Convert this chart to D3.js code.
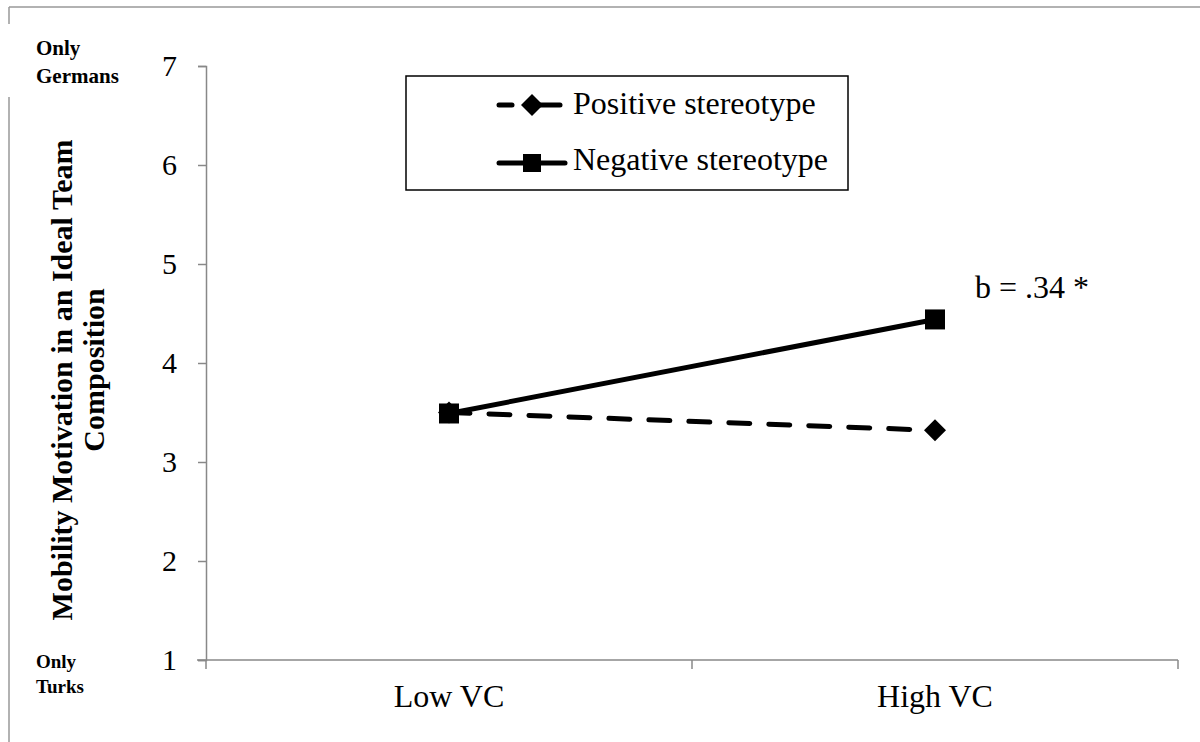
<!DOCTYPE html>
<html>
<head>
<meta charset="utf-8">
<script src="https://cdn.jsdelivr.net/npm/d3@7"></script>
<style>
  body { margin: 0; background: #fff; }
  svg { display: block; font-family: "Liberation Serif", "Times New Roman", serif; }
</style>
</head>
<body>
<svg id="chart" width="1200" height="742"></svg>
<script>
const categories = ["Low VC", "High VC"];
const positiveValues = [3.50, 3.32];
const negativeValues = [3.49, 4.44];
const yTicks = [1, 2, 3, 4, 5, 6, 7];

const svg = d3.select("#chart");

// outer frame (top and left edges only, like the cropped figure)
svg.append("line").attr("x1", 9).attr("x2", 1200).attr("y1", 7).attr("y2", 7)
  .attr("stroke", "#999").attr("stroke-width", 1.5);
svg.append("line").attr("x1", 9).attr("x2", 9).attr("y1", 7).attr("y2", 24)
  .attr("stroke", "#999").attr("stroke-width", 1.5);
svg.append("line").attr("x1", 9).attr("x2", 9).attr("y1", 97).attr("y2", 742)
  .attr("stroke", "#999").attr("stroke-width", 1.5);

const x = d3.scaleBand().domain(categories).range([206, 1178]);
const y = d3.scaleLinear().domain([1, 7]).range([660, 66]);

// y axis
const yAxis = svg.append("g")
  .attr("transform", "translate(206,0)")
  .call(d3.axisLeft(y).tickValues(yTicks).tickSize(8).tickPadding(21).tickFormat(d3.format("d")));
yAxis.selectAll("path, line").attr("stroke", "#888").attr("stroke-width", 1.5);
yAxis.selectAll("text").attr("font-size", 30).attr("font-family", "Liberation Serif").attr("fill", "#000");

// x axis with ticks at band edges
const xAxisG = svg.append("g").attr("transform", "translate(0,660)");
xAxisG.append("line").attr("x1", 197).attr("x2", 1178).attr("stroke", "#888").attr("stroke-width", 1.5);
const edges = [x.range()[0], ...categories.map(c => x(c) + x.bandwidth())];
xAxisG.selectAll(".edge").data(edges).join("line")
  .attr("x1", d => d).attr("x2", d => d).attr("y1", 0).attr("y2", 9)
  .attr("stroke", "#888").attr("stroke-width", 1.5);
xAxisG.selectAll(".cat").data(categories).join("text")
  .attr("x", d => x(d) + x.bandwidth() / 2).attr("y", 47)
  .attr("text-anchor", "middle").attr("font-size", 32).text(d => d);

const cx = d => x(d) + x.bandwidth() / 2;
const line = d3.line().x(d => cx(d[0])).y(d => y(d[1]));

// positive stereotype (dashed, diamonds)
const posData = categories.map((c, i) => [c, positiveValues[i]]);
svg.append("path").datum(posData).attr("d", line)
  .attr("fill", "none").attr("stroke", "#000").attr("stroke-width", 5)
  .attr("stroke-dasharray", "21,19").attr("stroke-linecap", "round");
svg.selectAll(".diamond").data(posData).join("path")
  .attr("transform", d => `translate(${cx(d[0])},${y(d[1])}) rotate(45)`)
  .attr("d", d3.symbol(d3.symbolSquare, 242)());

// negative stereotype (solid, squares)
const negData = categories.map((c, i) => [c, negativeValues[i]]);
svg.append("path").datum(negData).attr("d", line)
  .attr("fill", "none").attr("stroke", "#000").attr("stroke-width", 5);
svg.selectAll(".sq").data(negData).join("rect")
  .attr("x", d => cx(d[0]) - 10).attr("y", d => y(d[1]) - 10)
  .attr("width", 20).attr("height", 20).attr("fill", "#000");

// annotation
svg.append("text").attr("x", 975).attr("y", 298).attr("font-size", 32).text("b = .34 *");

// legend
svg.append("rect").attr("x", 406).attr("y", 76).attr("width", 442).attr("height", 114)
  .attr("fill", "#fff").attr("stroke", "#000").attr("stroke-width", 1.5);
const legend = [
  { label: "Positive stereotype", dash: true, y: 105, ty: 114 },
  { label: "Negative stereotype", dash: false, y: 163, ty: 170 }
];
legend.forEach(l => {
  const g = svg.append("g");
  if (l.dash) {
    g.append("line").attr("x1", 499).attr("x2", 512).attr("y1", l.y).attr("y2", l.y)
      .attr("stroke", "#000").attr("stroke-width", 5).attr("stroke-linecap", "round");
    g.append("line").attr("x1", 540).attr("x2", 560).attr("y1", l.y).attr("y2", l.y)
      .attr("stroke", "#000").attr("stroke-width", 5).attr("stroke-linecap", "round");
    g.append("path").attr("transform", `translate(532,${l.y}) rotate(45)`)
      .attr("d", d3.symbol(d3.symbolSquare, 242)());
  } else {
    g.append("line").attr("x1", 499).attr("x2", 565).attr("y1", l.y).attr("y2", l.y)
      .attr("stroke", "#000").attr("stroke-width", 5).attr("stroke-linecap", "round");
    g.append("rect").attr("x", 523).attr("y", l.y - 9).attr("width", 18).attr("height", 18);
  }
  g.append("text").attr("x", 573).attr("y", l.ty).attr("font-size", 32).text(l.label);
});

// y axis title
const title = svg.append("text").attr("font-size", 30).attr("font-weight", "bold")
  .attr("text-anchor", "middle").attr("transform", "translate(72,380) rotate(-90)");
title.append("tspan").attr("x", 0).attr("y", 0).text("Mobility Motivation in an Ideal Team");
title.append("tspan").attr("x", 10).attr("y", 32).text("Composition");

// end labels
const ends = [
  { lines: ["Only", "Germans"], x: 36, y: 55, gap: 28, size: 21 },
  { lines: ["Only", "Turks"], x: 36, y: 668, gap: 25, size: 19 }
];
ends.forEach(e => {
  const t = svg.append("text").attr("font-size", e.size).attr("font-weight", "bold");
  e.lines.forEach((s, i) => t.append("tspan").attr("x", e.x).attr("y", e.y + i * e.gap).text(s));
});
</script>
</body>
</html>
